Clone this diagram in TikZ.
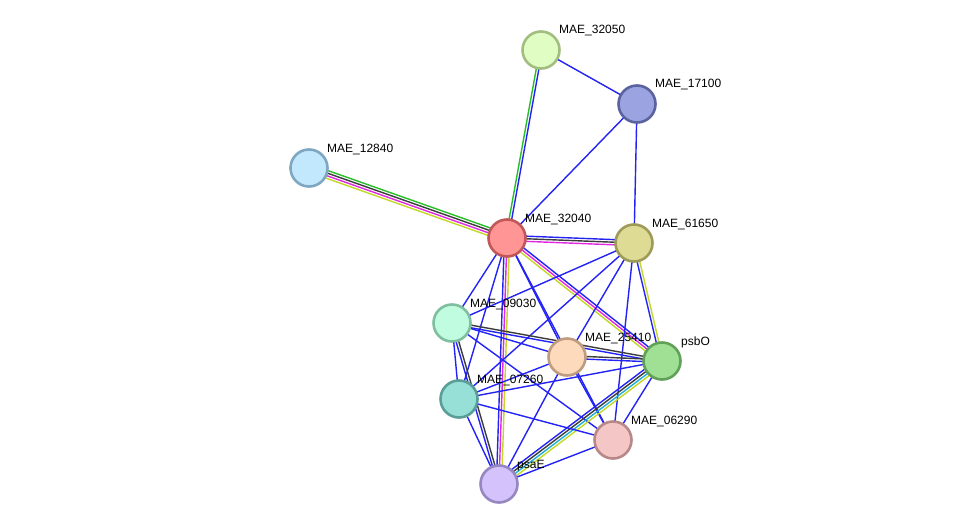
\documentclass[tikz,border=0pt]{standalone}
\usepackage{fontspec}
\setmainfont{Liberation Sans}
\usetikzlibrary{calc}
\pgfdeclarelayer{bgfill}
\pgfdeclarelayer{edges}
\pgfsetlayers{bgfill,edges,main}
\definecolor{cb}{RGB}{35,35,245}
\definecolor{ck}{RGB}{60,60,60}
\definecolor{cm}{RGB}{225,40,225}
\definecolor{cy}{RGB}{195,215,40}
\definecolor{cg}{RGB}{40,190,40}
\definecolor{cc}{RGB}{30,175,215}
\tikzset{
  eb/.style={draw=cb},
  ek/.style={draw=ck},
  em/.style={draw=cm},
  ey/.style={draw=cy},
  eg/.style={draw=cg},
  ec/.style={draw=cc},
  prot/.style={circle, minimum size=37pt, inner sep=0pt, line width=2.6pt},
  lbl/.style={anchor=base west, inner sep=0pt, font=\fontsize{12}{14}\selectfont}
}
\newcommand\medge[4]{%
  \foreach \cclr [count=\ii] in {#4}{%
    \pgfmathsetmacro\dd{(\ii-(#3+1)/2)*2.6}%
    \draw[\cclr, line width=1.4pt] ($(#1.center)!\dd pt!90:(#2.center)$) -- ($(#2.center)!\dd pt!-90:(#1.center)$);
  }%
}
\begin{document}
\begin{tikzpicture}[x=1pt,y=-1pt]
\begin{pgfonlayer}{bgfill}
\fill[white] (0,0) rectangle (976,530);
\end{pgfonlayer}
\useasboundingbox (0,0) rectangle (976,530);

\node[prot, fill={rgb,255:red,224;green,254;blue,196}, draw={rgb,255:red,163;green,189;blue,127}] (n32050) at (541,50) {};
\node[prot, fill={rgb,255:red,155;green,163;blue,224}, draw={rgb,255:red,90;green,99;blue,160}] (n17100) at (637,104) {};
\node[prot, fill={rgb,255:red,193;green,232;blue,253}, draw={rgb,255:red,127;green,167;blue,193}] (n12840) at (309,168) {};
\node[prot, fill={rgb,255:red,255;green,149;blue,149}, draw={rgb,255:red,192;green,88;blue,88}] (n32040) at (507,238) {};
\node[prot, fill={rgb,255:red,222;green,219;blue,149}, draw={rgb,255:red,158;green,154;blue,88}] (n61650) at (634,243) {};
\node[prot, fill={rgb,255:red,192;green,253;blue,224}, draw={rgb,255:red,127;green,191;blue,159}] (n09030) at (452,323) {};
\node[prot, fill={rgb,255:red,253;green,218;blue,188}, draw={rgb,255:red,191;green,156;blue,128}] (n25410) at (567,357) {};
\node[prot, fill={rgb,255:red,160;green,224;blue,149}, draw={rgb,255:red,96;green,160;blue,88}] (psbO) at (662,361) {};
\node[prot, fill={rgb,255:red,151;green,224;blue,216}, draw={rgb,255:red,90;green,158;blue,152}] (n07260) at (459,399) {};
\node[prot, fill={rgb,255:red,245;green,198;blue,198}, draw={rgb,255:red,184;green,136;blue,136}] (n06290) at (613,440) {};
\node[prot, fill={rgb,255:red,211;green,194;blue,252}, draw={rgb,255:red,150;green,135;blue,192}] (psaE) at (499,484) {};

\node[lbl] (l32050) at (559,33.5) {MAE\_32050};
\node[lbl] (l17100) at (655,87.5) {MAE\_17100};
\node[lbl] (l12840) at (327,152) {MAE\_12840};
\node[lbl] (l32040) at (525,222) {MAE\_32040};
\node[lbl] (l61650) at (652,227) {MAE\_61650};
\node[lbl] (l09030) at (470,307) {MAE\_09030};
\node[lbl] (l25410) at (585,341) {MAE\_25410};
\node[lbl] (lpsbO) at (681,345) {psbO};
\node[lbl] (l07260) at (477,383) {MAE\_07260};
\node[lbl] (l06290) at (631,424) {MAE\_06290};
\node[lbl] (lpsaE) at (517,468) {psaE};

\begin{pgfonlayer}{edges}
\medge{n32050}{n17100}{1}{eb}
\medge{n32050}{n32040}{2}{eg,eb}
\medge{n17100}{n32040}{1}{eb}
\medge{n17100}{n61650}{1}{eb}
\medge{n12840}{n32040}{4}{ey,em,ek,eg}
\medge{n32040}{n61650}{3}{em,ek,eb}
\medge{n32040}{n09030}{1}{eb}
\medge{n32040}{n07260}{1}{eb}
\medge{n32040}{n25410}{1}{eb}
\medge{n32040}{n06290}{1}{eb}
\medge{n32040}{psbO}{3}{ey,em,eb}
\medge{n32040}{psaE}{3}{eb,em,ey}
\medge{n61650}{n09030}{1}{eb}
\medge{n61650}{n07260}{1}{eb}
\medge{n61650}{n25410}{1}{eb}
\medge{n61650}{n06290}{1}{eb}
\medge{n61650}{psbO}{2}{eb,ey}
\medge{n09030}{n25410}{1}{eb}
\medge{n09030}{psbO}{2}{eb,ek}
\medge{n09030}{n07260}{1}{eb}
\medge{n09030}{n06290}{1}{eb}
\medge{n09030}{psaE}{2}{eb,ek}
\medge{n25410}{psbO}{2}{eb,ek}
\medge{n25410}{n07260}{1}{eb}
\medge{n25410}{psaE}{1}{eb}
\medge{n25410}{n06290}{1}{eb}
\medge{psbO}{n07260}{1}{eb}
\medge{psbO}{n06290}{1}{eb}
\medge{psbO}{psaE}{4}{eb,ek,ec,ey}
\medge{n07260}{psaE}{1}{eb}
\medge{n07260}{n06290}{1}{eb}
\medge{n06290}{psaE}{1}{eb}
\end{pgfonlayer}
\end{tikzpicture}
\end{document}
